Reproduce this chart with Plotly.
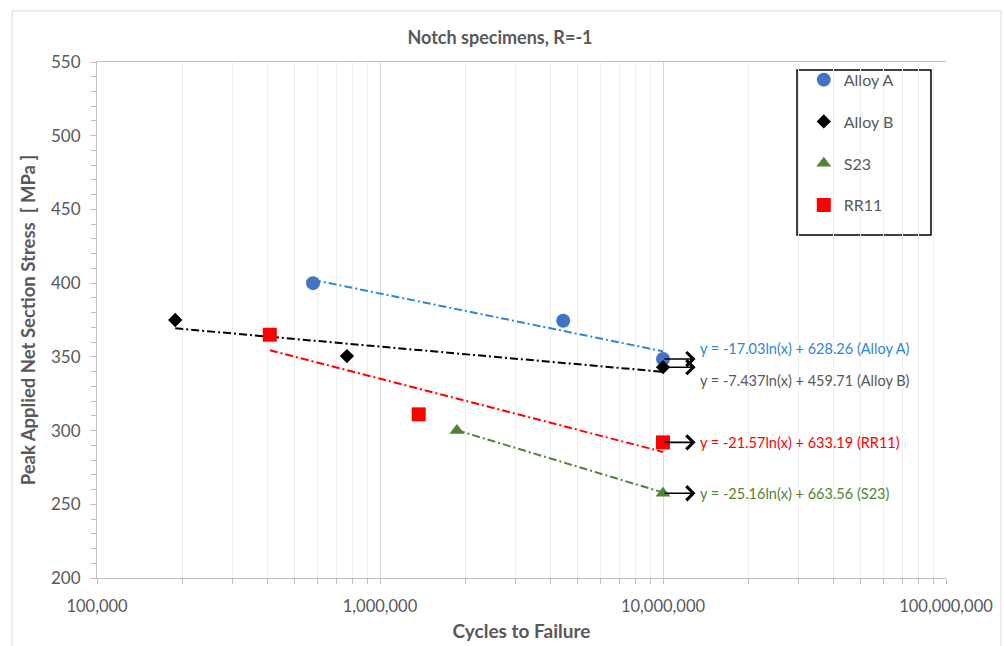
import math
import plotly.graph_objects as go

# Fatigue results, notched specimens at R=-1
series_names = ["Alloy A", "Alloy B", "S23", "RR11"]

alloy_a_cycles = [580000, 4440000, 10000000]
alloy_a_stress = [400, 374.5, 348.5]

alloy_b_cycles = [189000, 764000, 10000000]
alloy_b_stress = [375, 350.5, 343]

s23_cycles = [1870000, 10000000]
s23_stress = [300, 257.5]

rr11_cycles = [408000, 1370000, 10000000]
rr11_stress = [365, 311, 292]

# Logarithmic trend fits: stress = a*ln(N) + b
fit_a = [-17.03, -7.437, -25.16, -21.57]
fit_b = [628.26, 459.71, 663.56, 633.19]

# Run-out specimens (stopped at 10^7 cycles)
runout_cycles = [10000000, 10000000, 10000000, 10000000]
runout_stress = [348.5, 343, 257.5, 292]

x_tick_vals = [1e5, 1e6, 1e7, 1e8]
x_tick_text = ["100,000", "1,000,000", "10,000,000", "100,000,000"]

cycles = [alloy_a_cycles, alloy_b_cycles, s23_cycles, rr11_cycles]
stress = [alloy_a_stress, alloy_b_stress, s23_stress, rr11_stress]

marker_colors = ["#4472C4", "#000000", "#548235", "#FF0000"]
trend_colors = ["#2E86D6", "#000000", "#548235", "#FF0000"]
label_colors = ["#2E86D6", "#595959", "#548235", "#FF0000"]
symbols = ["circle", "diamond", "triangle-up", "square"]
sizes = [14, 11, 13, 14]
label_yshift = [11, -13, 0, 0]

FONT = "Lato, 'Open Sans', sans-serif"
GREY = "#595959"

fig = go.Figure()

# Trend lines first so markers sit on top
for i, name in enumerate(series_names):
    lo, hi = min(cycles[i]), max(cycles[i])
    n = 40
    xs = [10 ** (math.log10(lo) + (math.log10(hi) - math.log10(lo)) * k / (n - 1)) for k in range(n)]
    ys = [fit_a[i] * math.log(x) + fit_b[i] for x in xs]
    fig.add_trace(go.Scatter(
        x=xs, y=ys, mode="lines", showlegend=False, hoverinfo="skip",
        line=dict(color=trend_colors[i], width=2, dash="8px,3px,2px,3px"),
    ))

for i, name in enumerate(series_names):
    fig.add_trace(go.Scatter(
        x=cycles[i], y=stress[i], mode="markers", name=name,
        legendgroup=name,
        marker=dict(symbol=symbols[i], size=sizes[i], color=marker_colors[i],
                    line=dict(width=0)),
    ))

annotations = []
for i, name in enumerate(series_names):
    lx = math.log10(runout_cycles[i])
    # run-out arrow
    annotations.append(dict(
        x=lx + 0.115, y=runout_stress[i], xref="x", yref="y",
        ax=lx, ay=runout_stress[i], axref="x", ayref="y",
        text="", showarrow=True, arrowhead=4, arrowsize=1.7, arrowwidth=1.6,
        arrowcolor="#000000",
    ))
    # fit equation label
    annotations.append(dict(
        x=lx, y=runout_stress[i], xref="x", yref="y",
        xshift=35, yshift=label_yshift[i], xanchor="left", yanchor="middle",
        text=f"y = {fit_a[i]:g}ln(x) + {fit_b[i]:.2f} ({name})",
        showarrow=False, font=dict(family=FONT, size=14.5, color=label_colors[i]),
    ))

fig.update_layout(
    width=1004, height=646,
    margin=dict(l=97, r=58, t=62, b=68, autoexpand=False),
    paper_bgcolor="white", plot_bgcolor="white",
    font=dict(family=FONT, color=GREY, size=16),
    title=dict(text="<b>Notch specimens, R=-1</b>", x=500 / 1004, xref="container",
               xanchor="center", y=1 - 38 / 646, yref="container", yanchor="middle",
               font=dict(family=FONT, size=18, color=GREY)),
    annotations=annotations,
    legend=dict(x=0.8245 + 0.008, y=0.9845 + 0.014, xanchor="left", yanchor="top",
                bgcolor="rgba(0,0,0,0)", borderwidth=0,
                tracegroupgap=18, traceorder="grouped",
                font=dict(family=FONT, size=16, color=GREY)),
    shapes=[
        dict(type="rect", xref="paper", yref="paper",
             x0=-0.1, x1=1.0648, y0=-0.2, y1=1.0988,
             line=dict(color="#D9D9D9", width=1), layer="below"),
        # legend frame
        dict(type="rect", xref="paper", yref="paper",
             x0=0.8245, x1=0.9823, y0=0.6647, y1=0.9845,
             line=dict(color="#000000", width=1.5), fillcolor="white", layer="below"),
    ],
)

fig.update_xaxes(
    type="log", range=[5, 8], automargin=False,
    tickmode="array", tickvals=x_tick_vals, ticktext=x_tick_text,
    ticks="outside", ticklen=5, tickcolor="#BFBFBF", ticklabelstandoff=8,
    showline=True, linecolor="#BFBFBF", linewidth=1, mirror=True,
    showgrid=True, gridcolor="#D9D9D9", gridwidth=1,
    minor=dict(tickmode="array",
               tickvals=[k * 10 ** d for d in range(5, 8) for k in range(2, 10)],
               ticks="outside", ticklen=5, tickcolor="#BFBFBF",
               showgrid=True, gridcolor="#EFEFEF", gridwidth=1),
    tickfont=dict(family=FONT, size=16.5, color=GREY),
    title=dict(text="<b>Cycles to Failure</b>", standoff=9,
               font=dict(family=FONT, size=19, color=GREY)),
    zeroline=False,
)

fig.update_yaxes(
    range=[200, 550], dtick=50, tick0=200, automargin=False,
    ticks="outside", ticklen=6, tickcolor="#BFBFBF", ticklabelstandoff=6,
    showline=True, linecolor="#BFBFBF", linewidth=1,
    showgrid=False,
    minor=dict(dtick=10, ticks="outside", ticklen=5, tickcolor="#BFBFBF", showgrid=False),
    tickfont=dict(family=FONT, size=17, color=GREY),
    title=dict(text="<b>Peak Applied Net Section Stress  [ MPa ]</b>", standoff=10,
               font=dict(family=FONT, size=18.5, color=GREY)),
    zeroline=False,
)

fig.write_html("out.html")
